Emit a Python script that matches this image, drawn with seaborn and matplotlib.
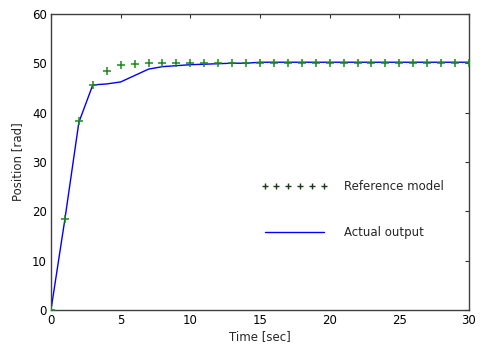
import matplotlib
matplotlib.use("Agg")
import matplotlib.pyplot as plt
from matplotlib.lines import Line2D
import seaborn as sns
import pandas as pd

time = list(range(0, 31))
reference_model = [0.0, 18.4, 38.3, 45.6, 48.5, 49.7, 49.9, 50.0, 50.0, 50.0, 50.0,
                   50.0, 50.0, 50.0, 50.0, 50.0, 50.0, 50.0, 50.0, 50.0, 50.0,
                   50.0, 50.0, 50.0, 50.0, 50.0, 50.0, 50.0, 50.0, 50.0, 50.0]
actual_output = [0.0, 18.4, 38.0, 45.6, 45.8, 46.2, 47.5, 48.8, 49.3, 49.5, 49.7,
                 49.8, 49.9, 50.0, 50.0, 50.2, 50.2, 50.2, 50.2, 50.2, 50.2,
                 50.2, 50.2, 50.2, 50.2, 50.2, 50.2, 50.2, 50.2, 50.2, 50.2]
x_ticks = [0, 5, 10, 15, 20, 25, 30]
y_ticks = [0, 10, 20, 30, 40, 50, 60]

df = pd.DataFrame({"t": time, "ref": reference_model, "act": actual_output})

sns.set_style("white")
plt.rcParams['font.family'] = ['DejaVu Sans']

fig = plt.figure(figsize=(4.81, 3.47), dpi=100)
ax = fig.add_axes([0.106, 0.107, 0.869, 0.853])

sns.lineplot(data=df, x="t", y="act", ax=ax, color="#0000ff", linewidth=1.0)
sns.scatterplot(data=df, x="t", y="ref", ax=ax, marker="+", color="#1a8c1a",
                s=40, linewidth=1.1, zorder=3)

ax.set_xlim(0, 30)
ax.set_ylim(0, 60)
ax.set_xticks(x_ticks)
ax.set_yticks(y_ticks)
ax.tick_params(direction="in", length=3, width=0.8, top=True, right=True,
               labelsize=8.5, pad=3, colors="#333333", labelcolor="black")
for s in ax.spines.values():
    s.set_visible(True)
    s.set_color("#404040")
    s.set_linewidth(1.0)

ax.set_xlabel("Time [sec]", fontsize=8.5, labelpad=2)
ax.set_ylabel("Position [rad]", fontsize=8.5, labelpad=6)

h1 = Line2D([], [], linestyle="none", marker="+", color="#1a3a1a", markersize=4,
            markeredgewidth=1.0)
h2 = Line2D([], [], color="#0000ff", linewidth=1.0)
leg = ax.legend([h1, h2], ["Reference model", "Actual output"], loc="center left",
                bbox_to_anchor=(0.477, 0.34), frameon=False, fontsize=8.5,
                numpoints=6, handlelength=5.6, handletextpad=1.4, labelspacing=2.8)

fig.savefig("out.png", dpi=100)
